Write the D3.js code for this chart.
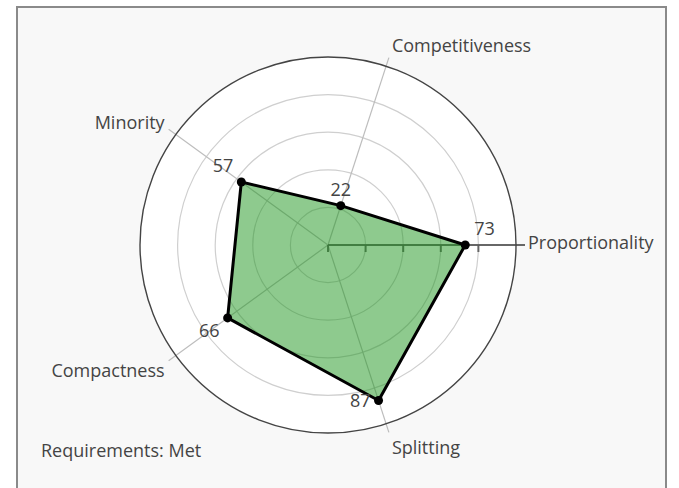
<!DOCTYPE html>
<html>
<head>
<meta charset="utf-8">
<script src="https://cdn.jsdelivr.net/npm/d3@7"></script>
<style>
  body { margin: 0; background: #fff; }
  text { font-family: "Open Sans", sans-serif; fill: #444; }
</style>
</head>
<body>
<div id="chart"></div>
<script>
// chart data
const categories = ["Proportionality", "Competitiveness", "Minority", "Compactness", "Splitting"];
const scores = [73, 22, 57, 66, 87];
const radialTicks = [0, 20, 40, 60, 80, 100];
const statusText = "Requirements: Met";

// where each value label sits next to its marker
const labelPlacement = ["top right", "top center", "top left", "bottom left", "middle left"];

const width = 679, height = 488;
const cx = 328, cy = 245; // centre of the polar area
const outerR = 188;
const tickOut = 9; // how far spokes run past the outer ring

const svg = d3.select("#chart").append("svg")
    .attr("width", width)
    .attr("height", height);

// panel background + border
svg.append("rect")
    .attr("x", 17).attr("y", 7)
    .attr("width", 649).attr("height", 500)
    .attr("fill", "#f8f8f8")
    .attr("stroke", "#8a8a8a")
    .attr("stroke-width", 2);

const r = d3.scaleLinear().domain([0, 100]).range([0, outerR]);
// angle in radians, counter-clockwise from east
const angle = d3.scaleLinear().domain([0, categories.length]).range([0, 2 * Math.PI]);

const px = (i, v) => cx + r(v) * Math.cos(angle(i));
const py = (i, v) => cy - r(v) * Math.sin(angle(i));

const g = svg.append("g");

// white polar disc
g.append("circle")
    .attr("cx", cx).attr("cy", cy).attr("r", outerR)
    .attr("fill", "#fff");

// rings
g.selectAll(".ring")
    .data(radialTicks.filter(d => d > 0 && d < 100))
    .join("circle")
    .attr("cx", cx).attr("cy", cy)
    .attr("r", d => r(d))
    .attr("fill", "none")
    .attr("stroke", "#cfcfcf")
    .attr("stroke-width", 1.2);

// spokes
g.selectAll(".spoke")
    .data(categories)
    .join("line")
    .attr("x1", cx).attr("y1", cy)
    .attr("x2", (d, i) => cx + (outerR + tickOut) * Math.cos(angle(i)))
    .attr("y2", (d, i) => cy - (outerR + tickOut) * Math.sin(angle(i)))
    .attr("stroke", "#bdbdbd")
    .attr("stroke-width", 1.2);

// radial axis along Proportionality
g.append("line")
    .attr("x1", cx).attr("y1", cy)
    .attr("x2", cx + r(100) + tickOut).attr("y2", cy)
    .attr("stroke", "#5a5a5a")
    .attr("stroke-opacity", 0.9)
    .attr("stroke-width", 2);

g.selectAll(".rtick")
    .data(radialTicks.slice(0, -1))
    .join("line")
    .attr("x1", d => cx + r(d)).attr("x2", d => cx + r(d))
    .attr("y1", cy).attr("y2", cy + 7)
    .attr("stroke", "#5a5a5a")
    .attr("stroke-opacity", 0.9)
    .attr("stroke-width", 2);

// outer ring
g.append("circle")
    .attr("cx", cx).attr("cy", cy).attr("r", outerR)
    .attr("fill", "none")
    .attr("stroke", "#444")
    .attr("stroke-width", 1.4);

// angular labels
g.selectAll(".cat")
    .data(categories)
    .join("text")
    .attr("x", (d, i) => {
        const c = Math.cos(angle(i));
        const ex = cx + (outerR + tickOut) * c;
        return c > 0.1 ? ex + 3 : (c < -0.1 ? ex - 4 : ex);
    })
    .attr("y", (d, i) => {
        const s = Math.sin(angle(i));
        const base = cy - (outerR + tickOut) * s;
        return Math.abs(s) < 0.1 ? base - 2 : base + 2 - 14.3 * s;
    })
    .attr("dy", "0.35em")
    .attr("text-anchor", (d, i) => {
        const c = Math.cos(angle(i));
        return c > 0.1 ? "start" : (c < -0.1 ? "end" : "middle");
    })
    .style("font-size", "18px")
    .text(d => d);

// the score polygon
const line = d3.line()
    .x((d, i) => px(i, d))
    .y((d, i) => py(i, d))
    .curve(d3.curveLinearClosed);

g.append("path")
    .datum(scores)
    .attr("d", line)
    .attr("fill", "rgb(30,150,30)")
    .attr("fill-opacity", 0.5)
    .attr("stroke", "#000")
    .attr("stroke-width", 3)
    .attr("stroke-linejoin", "round");

g.selectAll(".dot")
    .data(scores)
    .join("circle")
    .attr("cx", (d, i) => px(i, d))
    .attr("cy", (d, i) => py(i, d))
    .attr("r", 4.5)
    .attr("fill", "#000");

// value labels
g.selectAll(".val")
    .data(scores)
    .join("text")
    .attr("x", (d, i) => {
        const p = labelPlacement[i];
        if (p.includes("left")) return px(i, d) - 8;
        if (p.includes("right")) return px(i, d) + 9;
        return px(i, d);
    })
    .attr("y", (d, i) => {
        const p = labelPlacement[i];
        if (p.startsWith("top")) return py(i, d) - 16;
        if (p.startsWith("bottom")) return py(i, d) + 13;
        return py(i, d);
    })
    .attr("dy", "0.35em")
    .attr("text-anchor", (d, i) => {
        const p = labelPlacement[i];
        return p.includes("left") ? "end" : (p.includes("right") ? "start" : "middle");
    })
    .style("font-size", "18px")
    .text(d => d);

svg.append("text")
    .attr("x", 41).attr("y", 451)
    .attr("dy", "0.35em")
    .style("font-size", "18px")
    .text(statusText);
</script>
</body>
</html>
